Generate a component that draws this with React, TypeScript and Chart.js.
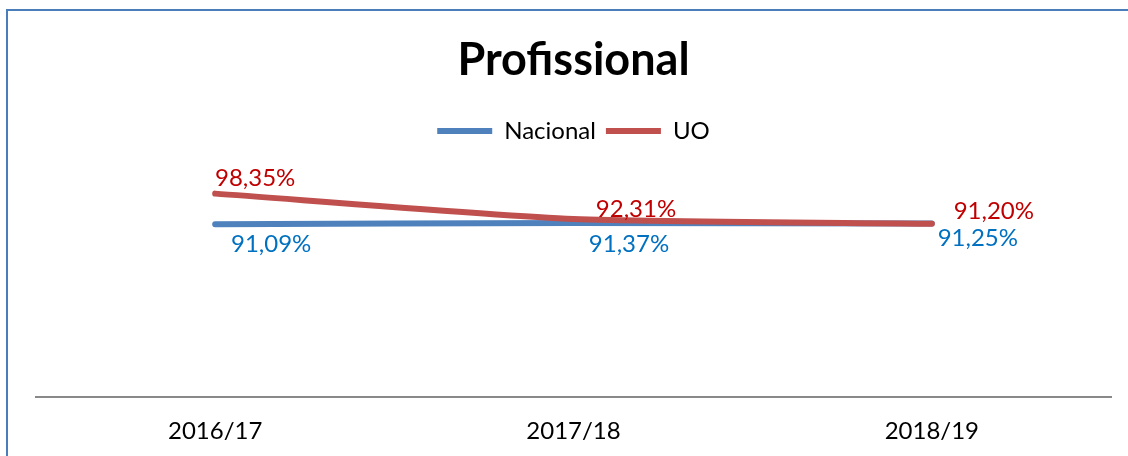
import { useEffect, useRef } from "react";
import { Chart, registerables } from "chart.js";

Chart.register(...registerables);

const categories = ["2016/17", "2017/18", "2018/19"];
const seriesNames = ["Nacional", "UO"];
const nacionalValues = [91.09, 91.37, 91.25];
const uoValues = [98.35, 92.31, 91.2];

// label placement (style), relative to each point: [dx, dy to baseline]
const nacionalLabelOffsets = [
  [56, 28],
  [55.5, 28.5],
  [46, 22],
];
const uoLabelOffsets = [
  [40, -8],
  [62.5, -2.5],
  [62, -4.5],
];

const FONT = "Lato, 'Open Sans', sans-serif";

const fmt = (v: number) => v.toFixed(2).replace(".", ",") + "%";

const framePlugin = {
  id: "frame",
  beforeDraw(chart: any) {
    const ctx = chart.ctx;
    ctx.save();
    ctx.fillStyle = "#ffffff";
    ctx.fillRect(0, 0, chart.width, chart.height);
    ctx.strokeStyle = "#4A7EBB";
    ctx.lineWidth = 2;
    ctx.strokeRect(7, 10, chart.width + 20, chart.height + 20);
    ctx.restore();
  },
};

const valueLabelPlugin = {
  id: "valueLabels",
  afterDatasetsDraw(chart: any) {
    const ctx = chart.ctx;
    chart.data.datasets.forEach((ds: any, di: number) => {
      const meta = chart.getDatasetMeta(di);
      if (meta.hidden) return;
      meta.data.forEach((pt: any, i: number) => {
        const off = ds.labelOffsets[i];
        ctx.save();
        ctx.font = `24px ${FONT}`;
        ctx.fillStyle = ds.labelColor;
        ctx.textAlign = "center";
        ctx.textBaseline = "alphabetic";
        ctx.fillText(fmt(ds.data[i]), pt.x + off[0], pt.y + off[1]);
        ctx.restore();
      });
    });
  },
};

export default function App() {
  const ref = useRef<HTMLCanvasElement | null>(null);

  useEffect(() => {
    if (!ref.current) return;
    const chart = new Chart(ref.current, {
      type: "line",
      data: {
        labels: categories,
        datasets: [
          {
            label: seriesNames[0],
            data: nacionalValues,
            borderColor: "#4F81BD",
            backgroundColor: "#4F81BD",
            borderWidth: 6,
            borderCapStyle: "round",
            borderJoinStyle: "round",
            pointRadius: 0,
            pointHoverRadius: 0,
            tension: 0.2,
            order: 2,
            labelColor: "#0070C0",
            labelOffsets: nacionalLabelOffsets,
          } as any,
          {
            label: seriesNames[1],
            data: uoValues,
            borderColor: "#C0504D",
            backgroundColor: "#C0504D",
            borderWidth: 6,
            borderCapStyle: "round",
            borderJoinStyle: "round",
            pointRadius: 0,
            pointHoverRadius: 0,
            tension: 0.2,
            order: 1,
            labelColor: "#C00000",
            labelOffsets: uoLabelOffsets,
          } as any,
        ],
      },
      options: {
        animation: false,
        responsive: false,
        maintainAspectRatio: false,
        events: [],
        layout: { padding: { top: 10, left: 36, right: 17, bottom: -10 } },
        plugins: {
          title: {
            display: true,
            text: "Profissional",
            color: "#000000",
            font: { family: FONT, size: 45, weight: "bold" },
            padding: { top: 23, bottom: 22 },
          },
          legend: {
            display: true,
            position: "top",
            labels: {
              color: "#000000",
              font: { family: FONT, size: 24 },
              usePointStyle: true,
              pointStyle: "line",
              pointStyleWidth: 55,
              padding: 10,
              sort: (a: any, b: any) => a.datasetIndex - b.datasetIndex,
            },
          },
          tooltip: { enabled: false },
        },
        scales: {
          x: {
            offset: true,
            grid: { display: false, drawTicks: false },
            border: { display: true, color: "#898989", width: 2 },
            ticks: {
              color: "#000000",
              font: { family: FONT, size: 24 },
              padding: 20,
            },
          },
          y: {
            display: false,
            min: 50,
            max: 108,
          },
        },
      },
      plugins: [framePlugin, valueLabelPlugin],
    });
    return () => chart.destroy();
  }, []);

  return (
    <div style={{ position: "fixed", left: 0, top: 0, width: 1128, height: 456, background: "#fff" }}>
      <canvas ref={ref} width={1128} height={456} style={{ display: "block", width: 1128, height: 456 }} />
    </div>
  );
}
